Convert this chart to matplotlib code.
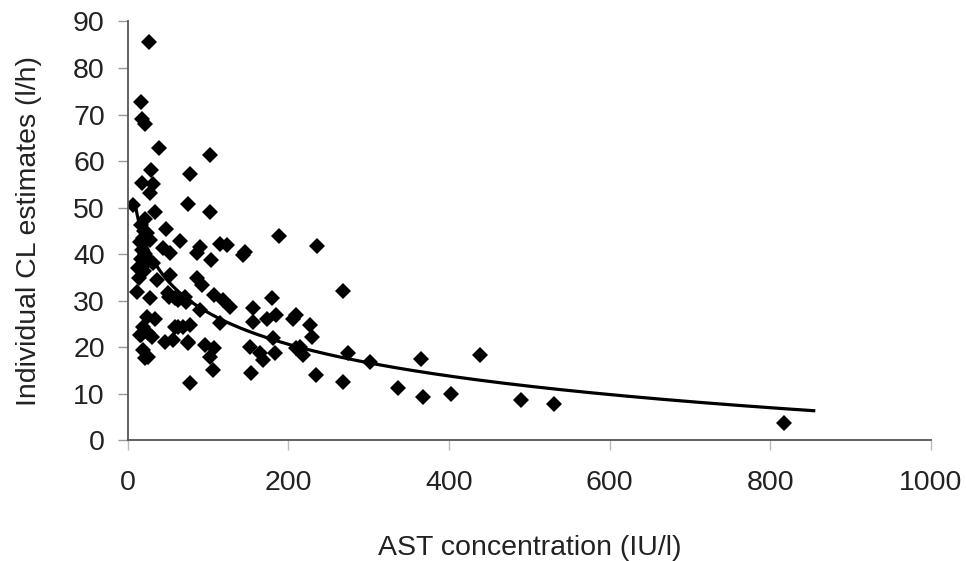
import numpy as np
import matplotlib.pyplot as plt

plt.rcParams['font.family'] = ['Liberation Sans', 'DejaVu Sans']

# AST (IU/l) and individual clearance estimates (l/h)
ast = np.array([
    26, 17, 18, 22, 39, 102, 29, 78, 18, 32, 28, 7, 75, 34, 102,
    17, 24, 15, 20, 18, 22, 16, 25, 20, 13, 32, 28, 21, 19, 14,
    188, 48, 65, 44, 53, 90, 86, 115, 123, 104, 144, 146, 236,
    36, 53, 86, 92, 11, 28, 50, 59, 73, 71, 90, 108, 119, 127, 115,
    156, 179, 173, 156, 185, 206, 210, 227, 229, 268, 52, 63,
    24, 34, 19, 69, 77, 59, 15, 30, 46, 57, 75, 96, 108, 19, 21,
    102, 106, 152, 165, 154, 78, 169, 181, 183, 210, 218, 214, 235,
    268, 274, 301, 337, 365, 438, 368, 403, 490, 531, 817,
    17, 25, 63, 75, 25,
])
cl = np.array([
    85.6, 72.7, 69.0, 67.9, 62.9, 61.3, 58.2, 57.2, 55.4, 55.1, 53.1, 50.6, 50.9, 49.1, 49.0,
    46.3, 44.5, 42.7, 45.0, 41.0, 40.0, 39.0, 38.5, 36.5, 37.0, 38.1, 43.0, 47.5, 43.5, 35.0,
    44.0, 45.4, 42.9, 41.3, 40.2, 41.6, 40.2, 42.3, 42.0, 38.8, 39.8, 40.5, 41.8,
    34.5, 35.5, 34.8, 33.4, 32.0, 30.5, 31.6, 30.5, 29.8, 30.9, 28.0, 31.2, 30.2, 28.7, 25.2,
    28.4, 30.5, 26.2, 25.5, 27.0, 26.2, 27.0, 24.8, 22.3, 32.2, 30.9, 30.2,
    26.6, 26.2, 24.4, 24.4, 24.8, 24.4, 22.7, 22.3, 21.2, 21.6, 21.2, 20.5, 19.8, 19.4, 17.7,
    18.0, 15.1, 20.1, 18.7, 14.4, 12.3, 17.3, 22.0, 18.7, 19.8, 18.4, 20.1, 14.1,
    12.6, 18.7, 16.8, 11.2, 17.6, 18.4, 9.3, 10.0, 8.7, 7.8, 3.8,
    22.7, 23.0, 24.4, 20.9, 18.0,
])

# logarithmic trend line: CL = a - b * ln(AST)
trend_a = 72.75
trend_b = 9.83
trend_x = np.linspace(9.5, 854, 400)

fig = plt.figure(figsize=(9.66, 5.61), dpi=100)
ax = fig.add_axes([0.1322, 0.2148, 0.8316, 0.7469])

ax.plot(ast, cl, linestyle='none', marker='D', markersize=7.8,
        color='black', markeredgewidth=0)
ax.plot(trend_x, trend_a - trend_b * np.log(trend_x), color='black', linewidth=2.3)

ax.set_xlim(0, 1000)
ax.set_ylim(0, 90)
ax.set_xticks(np.arange(0, 1001, 200))
ax.set_yticks(np.arange(0, 91, 10))

for side in ['top', 'right']:
    ax.spines[side].set_visible(False)
for side in ['left', 'bottom']:
    ax.spines[side].set_color('#555555')
    ax.spines[side].set_linewidth(1.3)

ax.tick_params(axis='y', direction='out', length=7, width=1, color='#999999',
               labelsize=20.5, pad=9.5, labelcolor='#222222')
ax.tick_params(axis='x', direction='out', length=7, width=1, color='#bbbbbb',
               labelsize=20.5, pad=14, labelcolor='#222222')

ax.set_xlabel('AST concentration (IU/l)', fontsize=20.5, color='#222222', labelpad=28)
ax.set_ylabel('Individual CL estimates (l/h)', fontsize=20.5, color='#222222', labelpad=22)

fig.savefig('out.png', dpi=100)
